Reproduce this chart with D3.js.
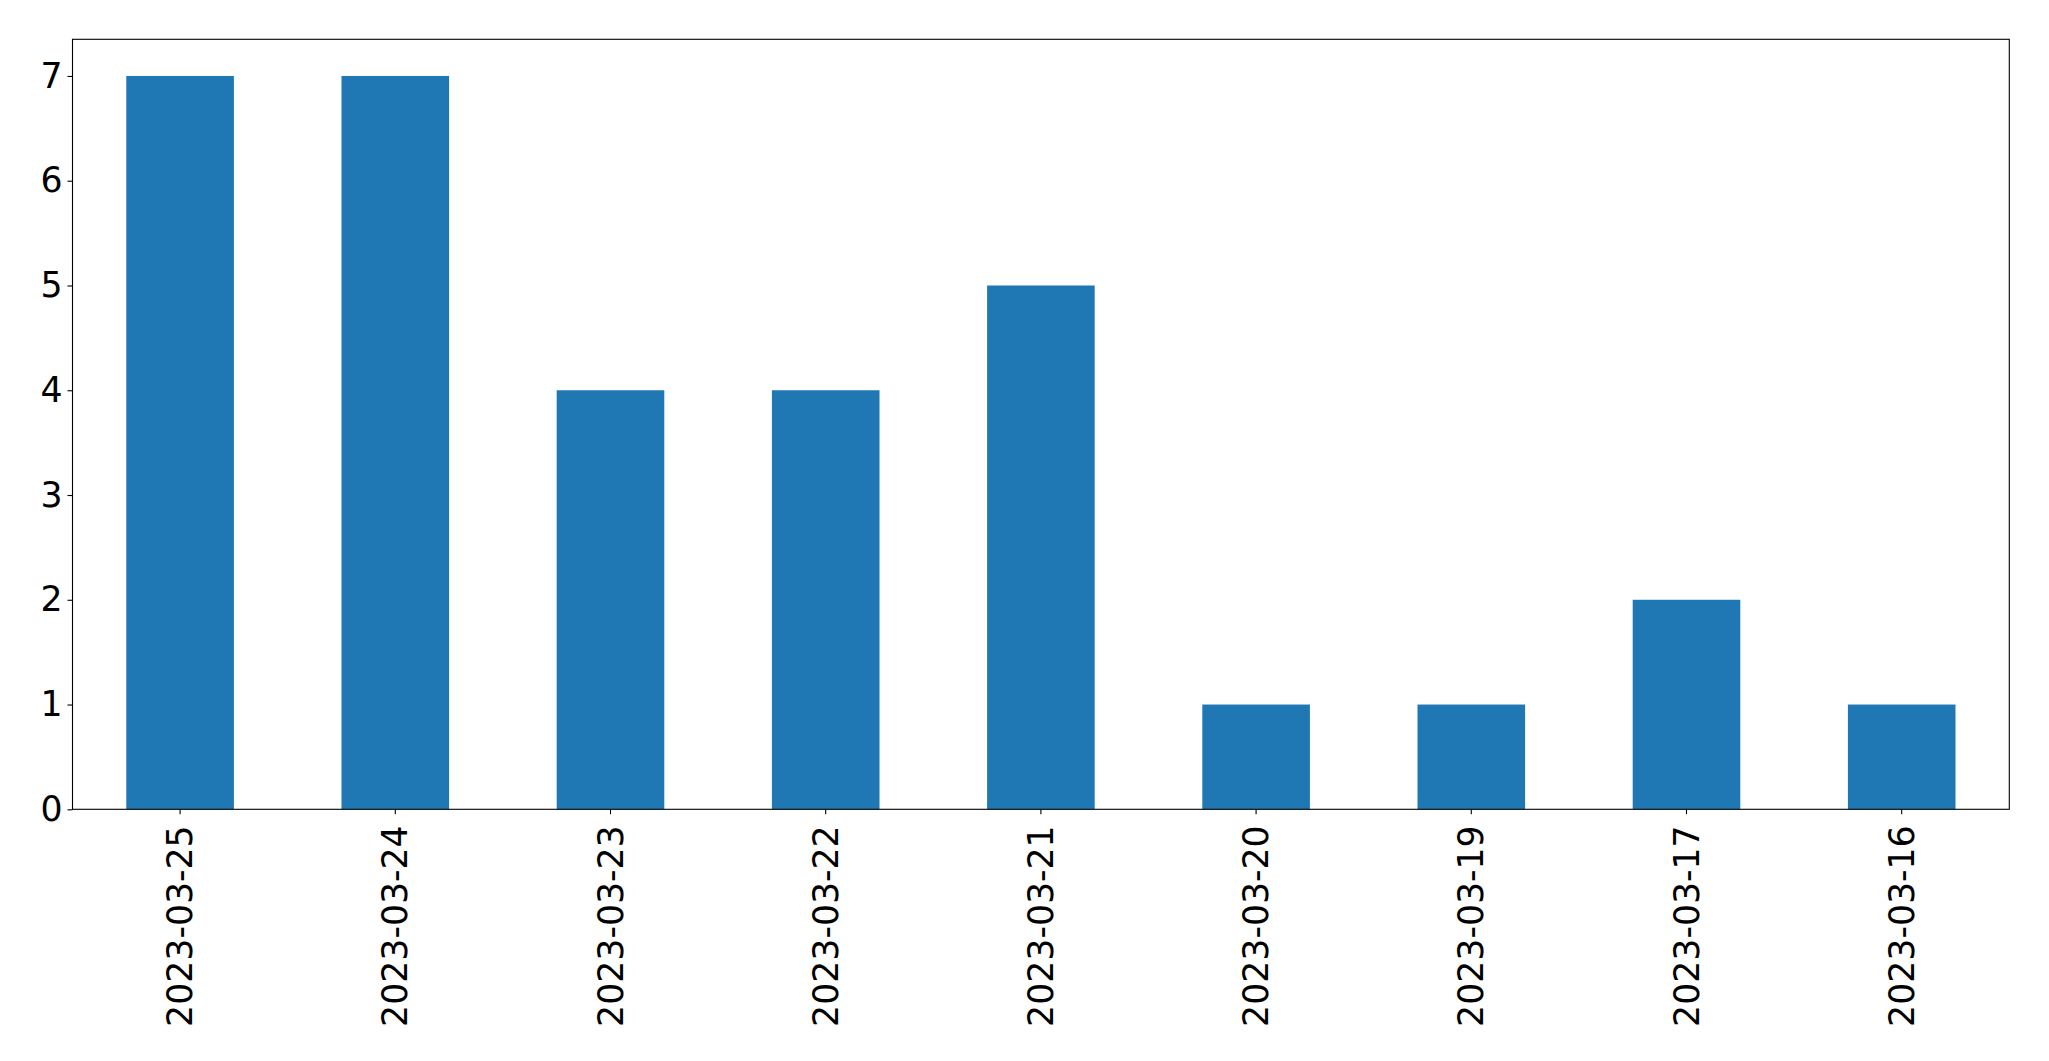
<!DOCTYPE html>
<html><head><meta charset="utf-8">
<script src="https://cdn.jsdelivr.net/npm/d3@7"></script>
<style>body{margin:0;background:#fff}svg{display:block}</style>
</head><body>
<script>
const categories = ["2023-03-25","2023-03-24","2023-03-23","2023-03-22","2023-03-21","2023-03-20","2023-03-19","2023-03-17","2023-03-16"];
const values = [7,7,4,4,5,1,1,2,1];
const yTicks = [0,1,2,3,4,5,6,7];

const W = 2049, H = 1061;
const m = {left: 72.5, right: 2049 - 2009.3, top: 39.3, bottom: 1061 - 809.3};
const iw = W - m.left - m.right, ih = H - m.top - m.bottom;
const svg = d3.select("body").append("svg").attr("width", W).attr("height", H);
const g = svg.append("g").attr("transform", `translate(${m.left},${m.top})`);

const x = d3.scaleBand().domain(categories).range([0, iw]).paddingInner(0.5).paddingOuter(0.25);
const y = d3.scaleLinear().domain([0, 7.35]).range([ih, 0]);

g.selectAll("rect.bar").data(values).join("rect").attr("class","bar")
  .attr("x", (d,i) => x(categories[i])).attr("width", x.bandwidth())
  .attr("y", d => y(d)).attr("height", d => y(0) - y(d)).attr("fill", "#1f77b4");

const font = "DejaVu Sans";
const ya = g.append("g").call(d3.axisLeft(y).tickValues(yTicks).tickFormat(d3.format("d")).tickSize(5).tickPadding(5));
ya.select(".domain").remove();
ya.selectAll("text").attr("font-family", font).attr("font-size", 34.7).attr("fill", "#000");
ya.selectAll("line").attr("stroke", "#000").attr("stroke-width", 1.1);

const xa = g.append("g").attr("transform", `translate(0,${ih})`).call(d3.axisBottom(x).tickSize(5).tickPadding(5));
xa.select(".domain").remove();
xa.selectAll("line").attr("stroke", "#000").attr("stroke-width", 1.1);
xa.selectAll("text").attr("font-family", font).attr("font-size", 34.7).attr("fill", "#000")
  .attr("text-anchor", "end").attr("transform", "rotate(-90)")
  .attr("x", -16).attr("y", 0).attr("dy", "0.35em");

g.append("rect").attr("x", 0).attr("y", 0).attr("width", iw).attr("height", ih)
  .attr("fill", "none").attr("stroke", "#000").attr("stroke-width", 1.1);
</script>
</body></html>
